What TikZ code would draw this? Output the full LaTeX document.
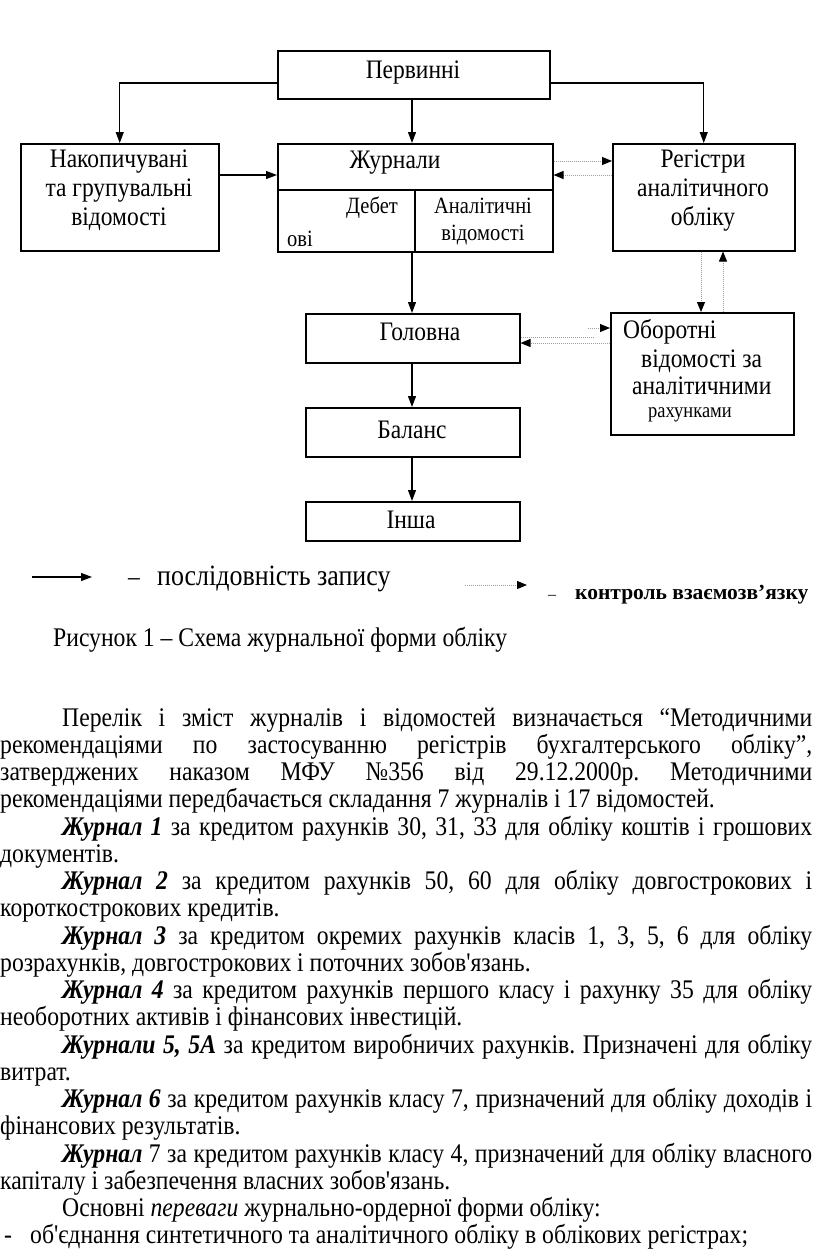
\documentclass[tikz,border=0pt]{standalone}
\usepackage{fontspec}
\setmainfont{Liberation Serif}[FakeStretch=0.88, Ligatures=TeXOff]
\newfontfamily\widefont{Liberation Serif}
\usetikzlibrary{arrows.meta}
\begin{document}
\frenchspacing
\begin{tikzpicture}[x=1pt,y=-1pt,
  box/.style={draw, line width=1.5pt, inner sep=0pt, anchor=north west},
  dtext/.style={font=\fontsize{26.7}{28.5}\selectfont, inner sep=0pt, align=center},
  stext/.style={font=\fontsize{23.3}{25}\selectfont, inner sep=0pt, align=center},
  seq/.style={line width=1.2pt, -{Triangle[length=11pt,width=8pt]}},
  ctl/.style={draw=gray!75, line width=1pt, dash pattern=on 1pt off 1pt, -{Triangle[length=10pt,width=8pt,color=black]}},
]
\useasboundingbox (0,0) rectangle (816,1253);
% boxes
\node[box, minimum width=272pt, minimum height=48pt] (perv) at (277,50) {};
\node[box, minimum width=198pt, minimum height=107pt] (nak) at (20,143) {};
\node[box, minimum width=275pt, minimum height=108pt] (jur) at (277,143) {};
\node[box, minimum width=182pt, minimum height=107pt] (reg) at (612,143) {};
\node[box, minimum width=214pt, minimum height=49pt] (gol) at (305,313) {};
\node[box, minimum width=183pt, minimum height=122pt] (obo) at (610,312) {};
\node[box, minimum width=214pt, minimum height=49pt] (bal) at (305,407) {};
\node[box, minimum width=214pt, minimum height=39pt] (insha) at (305,501) {};
% helper coordinates
\coordinate (yP) at (0,83);
\coordinate (yN) at (0,175);
\coordinate (yJ1) at (0,161);
\coordinate (yJ2) at (0,175);
\coordinate (xR1) at (701,0);
\coordinate (xR2) at (723,0);
\coordinate (yO1) at (0,328);
\coordinate (yO2) at (0,337);
\coordinate (yO3) at (0,343);
\coordinate (xO1) at (588,0);
\coordinate (xO2) at (593,0);
\coordinate (xC) at (412,0);
\coordinate (yDiv) at (0,190);
\coordinate (xDiv) at (415,0);
% journal dividers
\draw[line width=1.5pt] (jur.west |- yDiv) -- (jur.east |- yDiv);
\draw[line width=1.5pt] (xDiv |- yDiv) -- (xDiv |- jur.south);
% texts
\node[dtext] (tperv) at (413,73) {Первинні};
\node[dtext, font=\fontsize{26.7}{29}\selectfont] (tnak) at (119,190) {Накопичувані\\та групувальні\\відомості};
\node[dtext] (tjur) at (395,163) {Журнали};
\node[stext, anchor=east] (tdeb) at (398,208) {Дебет};
\node[stext, anchor=west] (tovi) at (287,239) {ові};
\node[stext, font=\fontsize{23.3}{27}\selectfont] (tan) at (483,222) {Аналітичні\\відомості};
\node[dtext, font=\fontsize{26.7}{29}\selectfont] (treg) at (703,191) {Регістри\\аналітичного\\обліку};
\node[dtext] (tgol) at (420,332) {Головна};
\node[dtext, anchor=base west] (tob1) at (623,338) {Оборотні};
\node[dtext, anchor=base west] (tob2) at (641,367) {відомості за};
\node[dtext, anchor=base west] (tob3) at (632,394) {аналітичними};
\node[stext, font=\fontsize{21}{22}\selectfont, anchor=base west] (tob4) at (648,417) {рахунками};
\node[dtext] (tbal) at (412,430) {Баланс};
\node[dtext] (tinsha) at (411,520) {Інша};
% connectors
\draw[seq] (perv.west |- yP) -| (nak.north);
\draw[seq] (perv.south -| xC) -- (jur.north -| xC);
\draw[seq] (perv.east |- yP) -| (reg.north);
\draw[seq] (nak.east |- yN) -- (jur.west |- yN);
\draw[ctl] (jur.east |- yJ1) -- (reg.west |- yJ1);
\draw[ctl] (reg.west |- yJ2) -- (jur.east |- yJ2);
\draw[seq] (jur.south -| xC) -- (gol.north -| xC);
\draw[ctl] (reg.south -| xR1) -- (obo.north -| xR1);
\draw[ctl] (obo.north -| xR2) -- (reg.south -| xR2);
\draw[ctl] (xO1 |- yO1) -- (obo.west |- yO1);
\draw[ctl, -] (gol.east |- yO2) -- (xO2 |- yO2);
\draw[ctl] (obo.west |- yO3) -- (gol.east |- yO3);
\draw[seq] (gol.south -| xC) -- (bal.north -| xC);
\draw[seq] (bal.south -| xC) -- (insha.north -| xC);
% legend
\coordinate (la) at (32,577);
\coordinate (lb) at (92,577);
\draw[seq] (la) -- (lb);
\node[anchor=base west, font=\fontsize{26.7}{28}\selectfont, inner sep=0] (ld1) at (128,585) {–};
\node[anchor=base west, font=\fontsize{29.5}{30}\selectfont, inner sep=0] (lt1) at (157,585) {послідовність запису};
\coordinate (lc) at (465,585);
\coordinate (ld) at (527,585);
\draw[ctl] (lc) -- (ld);
\node[anchor=base west, font=\widefont\fontsize{16}{20}\selectfont, inner sep=0] (ld2) at (548,599) {–};
\node[anchor=base west, font=\widefont\bfseries\fontsize{21.5}{24}\selectfont, inner sep=0] (lt2) at (575,599) {контроль взаємозв’язку};
% caption
\node[anchor=base west, font=\fontsize{26.9}{27}\selectfont, inner sep=0] (cap) at (53,646) {Рисунок 1 – Схема журнальної форми обліку};
% body
\node[anchor=base west, inner sep=0, font=\fontsize{26.9}{27.26}\selectfont] (body) at (0,726) {\vtop{\baselineskip=27.26pt \lineskiplimit=-30pt \hsize=812pt
\hbox to 812pt{\hspace*{62pt}Перелік і зміст журналів і відомостей визначається “Методичними}
\hbox to 812pt{рекомендаціями по застосуванню регістрів бухгалтерського обліку”,}
\hbox to 812pt{затверджених наказом МФУ №356 від 29.12.2000р. Методичними}
\hbox{рекомендаціями передбачається складання 7 журналів і 17 відомостей.}
\hbox to 812pt{\hspace*{62pt}\textbf{\textit{Журнал 1}} за кредитом рахунків 30, 31, 33 для обліку коштів і грошових}
\hbox{документів.}
\hbox to 812pt{\hspace*{62pt}\textbf{\textit{Журнал 2}} за кредитом рахунків 50, 60 для обліку довгострокових і}
\hbox{короткострокових кредитів.}
\hbox to 812pt{\hspace*{62pt}\textbf{\textit{Журнал 3}} за кредитом окремих рахунків класів 1, 3, 5, 6 для обліку}
\hbox{розрахунків, довгострокових і поточних зобов'язань.}
\hbox to 812pt{\hspace*{62pt}\textbf{\textit{Журнал 4}} за кредитом рахунків першого класу і рахунку 35 для обліку}
\hbox{необоротних активів і фінансових інвестицій.}
\hbox to 812pt{\hspace*{62pt}\textbf{\textit{Журнали 5, 5А}} за кредитом виробничих рахунків. Призначені для обліку}
\hbox{витрат.}
\hbox to 812pt{\hspace*{62pt}\textbf{\textit{Журнал 6}} за кредитом рахунків класу 7, призначений для обліку доходів і}
\hbox{фінансових результатів.}
\hbox to 812pt{\hspace*{62pt}\textbf{\textit{Журнал}} 7 за кредитом рахунків класу 4, призначений для обліку власного}
\hbox{капіталу і забезпечення власних зобов'язань.}
\hbox{\hspace*{62pt}Основні \textit{переваги} журнально-ордерної форми обліку:}
\hbox{\hspace*{4pt}\makebox[26pt][l]{-}об'єднання синтетичного та аналітичного обліку в облікових регістрах;}
}};
\end{tikzpicture}
\end{document}
